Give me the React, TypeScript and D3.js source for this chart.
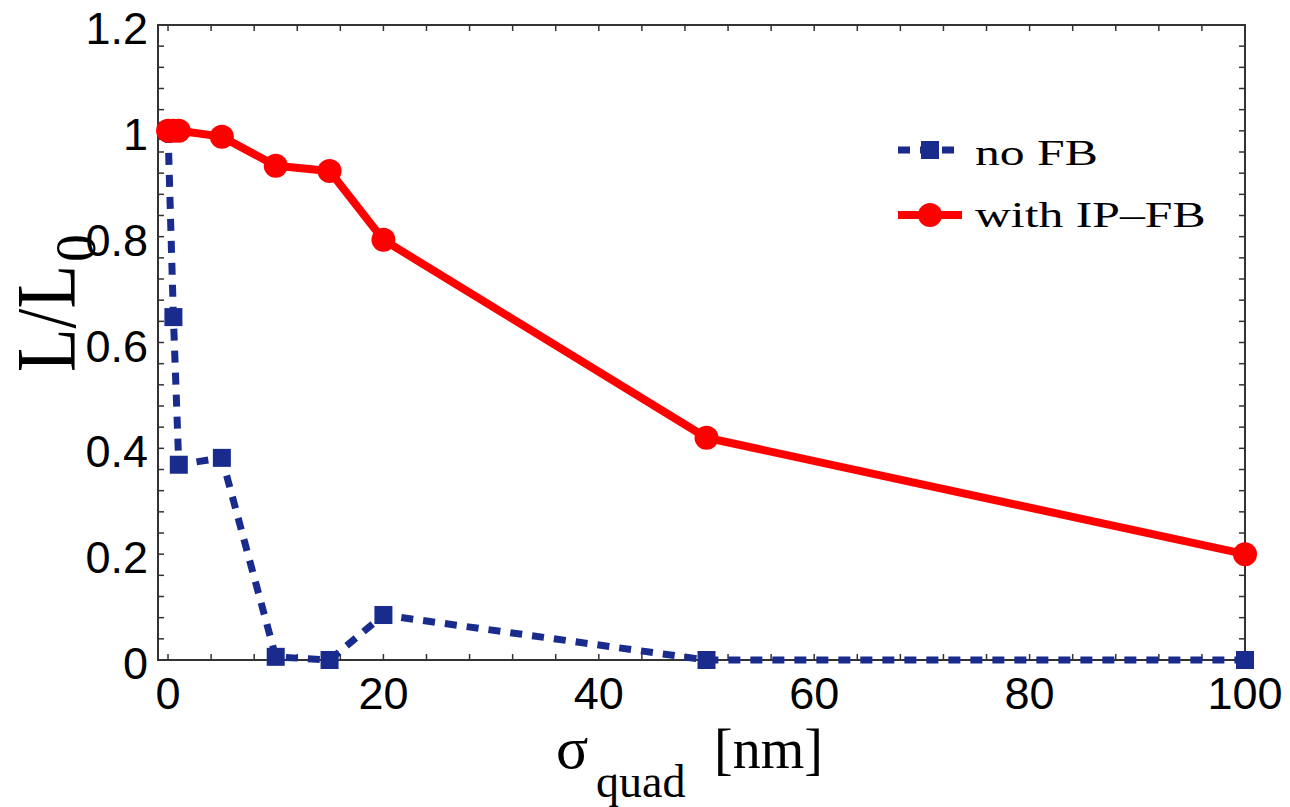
import React from "react";
import * as d3 from "d3";

const xValues = [0, 0.5, 1, 5, 10, 15, 20, 50, 100];
const noFB = [1.0, 0.648, 0.369, 0.382, 0.006, 0.0, 0.085, 0.0, 0.0];
const withIPFB = [1.0, 1.0, 1.0, 0.989, 0.934, 0.924, 0.794, 0.42, 0.2];
const xTickLabels = [0, 20, 40, 60, 80, 100];
const yTickLabels = [0, 0.2, 0.4, 0.6, 0.8, 1, 1.2];
const seriesNames = ["no FB", "with IP\u2013FB"];

const W = 1290;
const H = 807;
const L = 158, R = 1245, T = 25, B = 660;

export default function App() {
  const x = d3.scaleLinear().domain([-0.93, 100]).range([L, R]);
  const y = d3.scaleLinear().domain([0, 1.2]).range([B, T]);
  const minorX = d3.range(0, 100.001, 4);
  const minorY = d3.range(0, 1.2001, 0.04);
  const line = d3
    .line<[number, number]>()
    .x((d) => x(d[0]))
    .y((d) => y(d[1]));
  const blueData: [number, number][] = xValues.map((v, i) => [v, noFB[i]]);
  const redData: [number, number][] = xValues.map((v, i) => [v, withIPFB[i]]);
  const blue = "#1a2b8e";
  const red = "#ff0000";
  const tick = 6;
  const sans = "'Liberation Sans', Arial, sans-serif";
  const serif = "'Liberation Serif', 'Times New Roman', serif";

  return (
    <svg
      width={W}
      height={H}
      style={{ position: "absolute", left: 0, top: 0, background: "#fff" }}
    >
      <rect x={0} y={0} width={W} height={H} fill="#fff" />
      {/* ticks */}
      <g stroke="#333" strokeWidth={1.5}>
        {minorX.map((v) => (
          <g key={"tx" + v}>
            <line x1={x(v)} x2={x(v)} y1={B} y2={B - tick} />
            <line x1={x(v)} x2={x(v)} y1={T} y2={T + tick} />
          </g>
        ))}
        {minorY.map((v, i) => (
          <g key={"ty" + i}>
            <line x1={L} x2={L + tick} y1={y(v)} y2={y(v)} />
            <line x1={R} x2={R - tick} y1={y(v)} y2={y(v)} />
          </g>
        ))}
      </g>
      <rect x={L} y={T} width={R - L} height={B - T} fill="none" stroke="#333" strokeWidth={2} />

      {/* tick labels */}
      <g fontFamily={sans} fontSize={45} fill="#000">
        {xTickLabels.map((v) => (
          <text key={"xl" + v} x={x(v)} y={709} textAnchor="middle">
            {v}
          </text>
        ))}
        {yTickLabels.map((v) => (
          <text key={"yl" + v} x={148} y={y(v) + 19} textAnchor="end">
            {String(v)}
          </text>
        ))}
      </g>

      {/* blue series */}
      <path d={line(blueData) || ""} fill="none" stroke={blue} strokeWidth={7} strokeDasharray="12,10" />
      {blueData.map((d, i) => (
        <rect key={"b" + i} x={x(d[0]) - 9} y={y(d[1]) - 9} width={18} height={18} fill={blue} />
      ))}

      {/* red series */}
      <path d={line(redData) || ""} fill="none" stroke={red} strokeWidth={8} strokeLinejoin="round" />
      {redData.map((d, i) => (
        <circle key={"r" + i} cx={x(d[0])} cy={y(d[1])} r={12} fill={red} />
      ))}

      {/* legend */}
      <g>
        <line x1={898} x2={962} y1={150} y2={150} stroke={blue} strokeWidth={7} strokeDasharray="12,10" />
        <rect x={921} y={141} width={18} height={18} fill={blue} />
        <text x={975} y={165} fontFamily={serif} fontSize={35} transform="translate(975,165) scale(1.42,1) translate(-975,-165)">
          {seriesNames[0]}
        </text>
        <line x1={898} x2={962} y1={215} y2={215} stroke={red} strokeWidth={8} />
        <circle cx={930} cy={215} r={12} fill={red} />
        <text x={975} y={227} fontFamily={serif} fontSize={35} transform="translate(975,227) scale(1.42,1) translate(-975,-227)">
          {seriesNames[1]}
        </text>
      </g>

      {/* x axis label */}
      <g fontFamily={serif} fill="#000">
        <text x={556} y={768} fontSize={60}>σ</text>
        <text x={596} y={797} fontSize={46}>quad</text>
        <text x={714} y={768} fontSize={56}>[nm]</text>
      </g>

      {/* y axis label */}
      <g fontFamily={serif} fill="#000">
        <text
          transform="translate(75,372) rotate(-90)"
          fontSize={84}
          textLength={107}
          lengthAdjust="spacingAndGlyphs"
        >
          L/L
        </text>
        <text transform="translate(95,262) rotate(-90)" fontSize={56}>
          0
        </text>
      </g>
    </svg>
  );
}
